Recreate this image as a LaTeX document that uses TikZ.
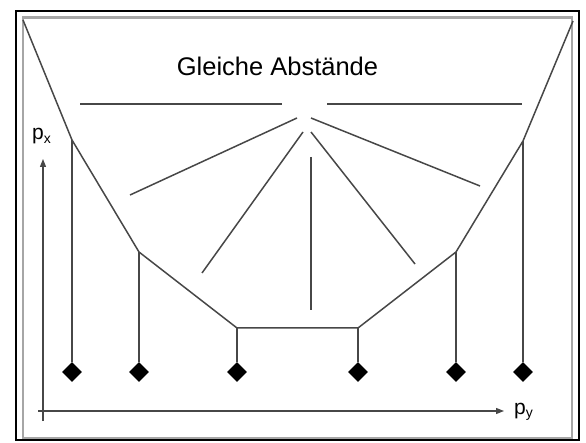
\documentclass[tikz,border=0pt]{standalone}
\usepackage{fontspec}
\setmainfont{Liberation Sans}
\usetikzlibrary{shapes.geometric,arrows.meta}
\begin{document}
\begin{tikzpicture}[x=1pt,y=-1pt,
  ln/.style={draw=black!72,line width=1.5pt},
  dmd/.style={diamond,fill=black,inner sep=0pt,minimum width=20pt,minimum height=20pt},
  lbl/.style={inner sep=0pt,anchor=base west,font=\fontsize{21}{21}\selectfont}]
\useasboundingbox (0,0) rectangle (586,443);
% frame
\draw[black!35,line width=2.4pt] (23,17.5) rectangle (572,438);
\draw[black,line width=1.4pt] (16,11) rectangle (579,440);
% polygon vertices
\coordinate (v0) at (23,20);
\coordinate (v1) at (72,140);
\coordinate (v2) at (139,252);
\coordinate (v3) at (237,328);
\coordinate (v4) at (358,328);
\coordinate (v5) at (456,252);
\coordinate (v6) at (523,141);
\coordinate (v7) at (573,21);
\draw[ln,line join=miter] (v0) -- (v1) -- (v2) -- (v3) -- (v4) -- (v5) -- (v6) -- (v7);
% diamonds
\node[dmd] (d1) at (72,372) {};
\node[dmd] (d2) at (139,372) {};
\node[dmd] (d3) at (237,372) {};
\node[dmd] (d4) at (358,372) {};
\node[dmd] (d5) at (456,372) {};
\node[dmd] (d6) at (523,372) {};
\foreach \i/\j in {v1/d1,v2/d2,v3/d3,v4/d4,v5/d5,v6/d6}
  \draw[ln] (\i) -- (\j.north);
% title
\node[inner sep=0pt,anchor=base,font=\fontsize{25.5}{25.5}\selectfont] (t) at (277.5,76) {Gleiche Abstände};
% equal-distance lines
\coordinate (h1a) at (80,104); \coordinate (h1b) at (282,104);
\coordinate (h2a) at (327,104); \coordinate (h2b) at (522,104);
\draw[ln] (h1a) -- (h1b);
\draw[ln] (h2a) -- (h2b);
\coordinate (f1a) at (297,118); \coordinate (f1b) at (130,195);
\coordinate (f2a) at (303,132); \coordinate (f2b) at (202,273);
\coordinate (f3a) at (311,157); \coordinate (f3b) at (311,310);
\coordinate (f4a) at (311,132); \coordinate (f4b) at (415,264);
\coordinate (f5a) at (311,118); \coordinate (f5b) at (480,186);
\foreach \k in {1,...,5} \draw[ln] (f\k a) -- (f\k b);
% axes
\coordinate (o) at (43,421);
\coordinate (ax) at (43,159);
\coordinate (oy) at (38,411);
\coordinate (ay) at (504,411);
\draw[ln,line width=1.2pt,-{Triangle[length=8pt,width=6pt]}] (o) -- (ax);
\draw[ln,line width=1.2pt,-{Triangle[length=8pt,width=6pt]}] (oy) -- (ay);
\node[lbl] (px) at (32,140) {p\textsubscript{\fontsize{14}{14}\selectfont x}};
\node[lbl] (py) at (514,414) {p\textsubscript{\fontsize{14}{14}\selectfont y}};
\end{tikzpicture}
\end{document}
